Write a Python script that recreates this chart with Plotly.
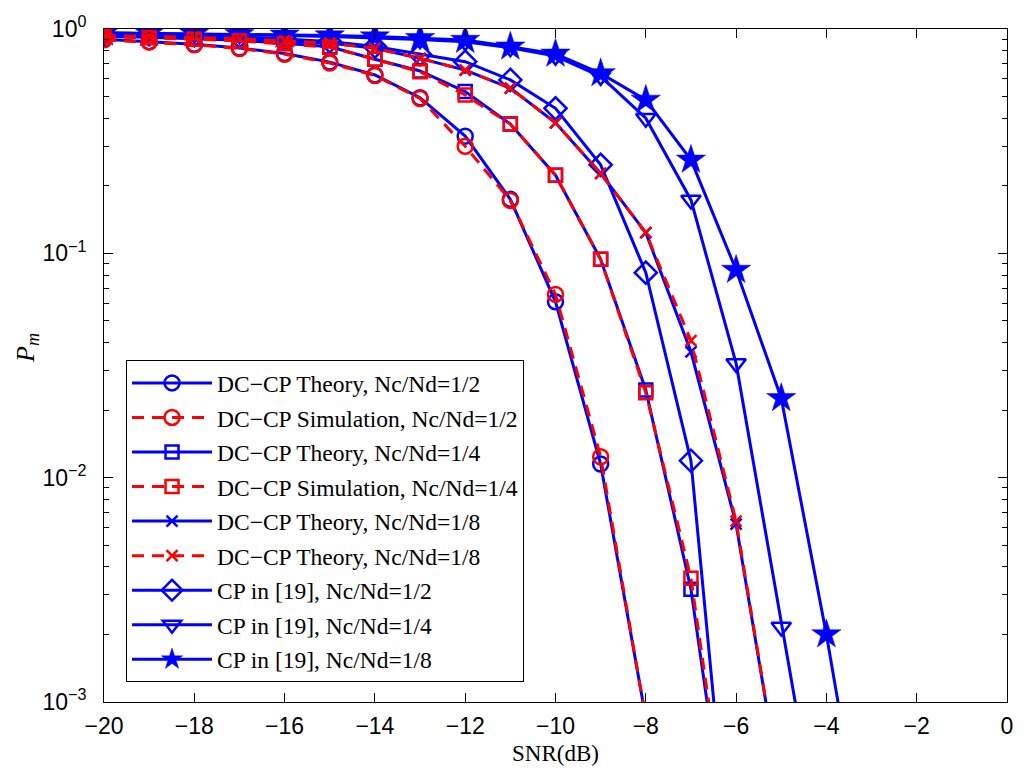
import plotly.graph_objects as go

snr = [-20, -19, -18, -17, -16, -15, -14, -13, -12, -11, -10, -9, -8, -7, -6, -5, -4, -3]

dccp_th_12 = [0.90, 0.878, 0.855, 0.822, 0.778, 0.712, 0.624, 0.494, 0.333, 0.174, 0.0608, 0.0115, 0.00085]
dccp_sim_12 = [0.895, 0.875, 0.85, 0.818, 0.772, 0.705, 0.620, 0.490, 0.300, 0.172, 0.0656, 0.0124, 0.00084]
dccp_th_14 = [0.93, 0.92, 0.905, 0.89, 0.865, 0.834, 0.733, 0.650, 0.526, 0.377, 0.223, 0.094, 0.0246, 0.00318, 0.000125]
dccp_sim_14 = [0.925, 0.915, 0.90, 0.885, 0.86, 0.830, 0.733, 0.645, 0.508, 0.377, 0.223, 0.094, 0.0239, 0.00356, 0.00014]
dccp_th_18 = [0.935, 0.928, 0.918, 0.905, 0.885, 0.865, 0.820, 0.740, 0.656, 0.545, 0.382, 0.227, 0.1236, 0.0364, 0.0062, 0.00039]
dccp_sim_18 = [0.935, 0.928, 0.918, 0.905, 0.885, 0.865, 0.820, 0.740, 0.656, 0.545, 0.382, 0.227, 0.1236, 0.0408, 0.0064, 0.00039]
cp_12 = [0.95, 0.945, 0.935, 0.925, 0.905, 0.88, 0.835, 0.77, 0.715, 0.593, 0.443, 0.248, 0.082, 0.0119, 0.00009]
cp_14 = [0.96, 0.955, 0.95, 0.944, 0.935, 0.925, 0.912, 0.897, 0.878, 0.825, 0.757, 0.615, 0.40, 0.173, 0.0323, 0.00216, 0.00016]
cp_18 = [0.962, 0.958, 0.953, 0.948, 0.942, 0.935, 0.925, 0.91, 0.893, 0.834, 0.775, 0.634, 0.483, 0.261, 0.0843, 0.0226, 0.0020, 0.000135]

labels = [
    "DC\u2212CP Theory, Nc/Nd=1/2",
    "DC\u2212CP Simulation, Nc/Nd=1/2",
    "DC\u2212CP Theory, Nc/Nd=1/4",
    "DC\u2212CP Simulation, Nc/Nd=1/4",
    "DC\u2212CP Theory, Nc/Nd=1/8",
    "DC\u2212CP Theory, Nc/Nd=1/8",
    "CP in [19], Nc/Nd=1/2",
    "CP in [19], Nc/Nd=1/4",
    "CP in [19], Nc/Nd=1/8",
]

x_ticks = [-20, -18, -16, -14, -12, -10, -8, -6, -4, -2, 0]
y_tickvals = [1, 0.1, 0.01, 0.001]
y_ticktext = ["10<sup>0</sup>", "10<sup>\u22121</sup>", "10<sup>\u22122</sup>", "10<sup>\u22123</sup>"]

BLUE = "#0000ff"
RED = "#ff0000"

series = [
    (dccp_th_12, BLUE, "solid", "circle-open", 15),
    (dccp_sim_12, RED, "dash", "circle-open", 15),
    (dccp_th_14, BLUE, "solid", "square-open", 13),
    (dccp_sim_14, RED, "dash", "square-open", 13),
    (dccp_th_18, BLUE, "solid", "x-thin-open", 11),
    (dccp_sim_18, RED, "dash", "x-thin-open", 11),
    (cp_12, BLUE, "solid", "diamond-open", 17),
    (cp_14, BLUE, "solid", "triangle-down-open", 17),
    (cp_18, BLUE, "solid", "star", 22),
]

fig = go.Figure()
order = [6, 7, 8, 0, 2, 4, 1, 3, 5]
for i in order:
    vals, col, dash, sym, size = series[i]
    fig.add_trace(go.Scatter(
        x=snr[:len(vals)], y=vals, mode="lines+markers", name=labels[i],
        legendrank=i + 1, legendgroup="g%d" % i,
        line=dict(color=col, width=3, dash="12px,8px" if dash == "dash" else "solid"),
        marker=dict(symbol=sym, size=size, color=col,
                    line=dict(color=col, width=2.5 if sym != "star" else 0.5)),
    ))

# the page body has an 8px margin, so the figure is placed at (8, 8)
fig.update_layout(
    width=1016, height=766,
    paper_bgcolor="white", plot_bgcolor="white",
    margin=dict(l=96, r=17, t=21, b=72),
    font=dict(family="Liberation Sans", size=23, color="black"),
    showlegend=True,
    legend=dict(
        x=0.0244, y=0.508, xanchor="left", yanchor="top",
        bgcolor="white", bordercolor="black", borderwidth=1,
        font=dict(family="Liberation Serif", size=23.5, color="black"),
        itemwidth=80, tracegroupgap=1,
        entrywidth=376, entrywidthmode="pixels",
    ),
    annotations=[
        dict(text="SNR(dB)", xref="paper", yref="paper", x=0.5, y=-0.0758,
             xanchor="center", yanchor="middle", showarrow=False,
             font=dict(family="Liberation Serif", size=23, color="black")),
        dict(text="<i>P</i><sub><i>m</i></sub>", xref="paper", yref="paper", x=-0.0853, y=0.526,
             xanchor="center", yanchor="middle", showarrow=False, textangle=-90,
             font=dict(family="Liberation Serif", size=26, color="black")),
    ],
)
fig.update_xaxes(
    range=[-20, 0], tickvals=x_ticks, automargin=False,
    ticks="inside", ticklen=9, tickcolor="black",
    showline=True, linecolor="black", linewidth=1, mirror="ticks",
    showgrid=False, zeroline=False,
    ticklabelstandoff=3,
)
fig.update_yaxes(
    type="log", range=[-3, 0], automargin=False,
    tickvals=y_tickvals, ticktext=y_ticktext,
    ticks="inside", ticklen=9, tickcolor="black",
    minor=dict(ticks="inside", ticklen=5, tickcolor="black", dtick="D1", showgrid=False),
    showline=True, linecolor="black", linewidth=1, mirror="ticks",
    showgrid=False, zeroline=False,
    ticklabelstandoff=12,
)

fig.write_html("out.html")
